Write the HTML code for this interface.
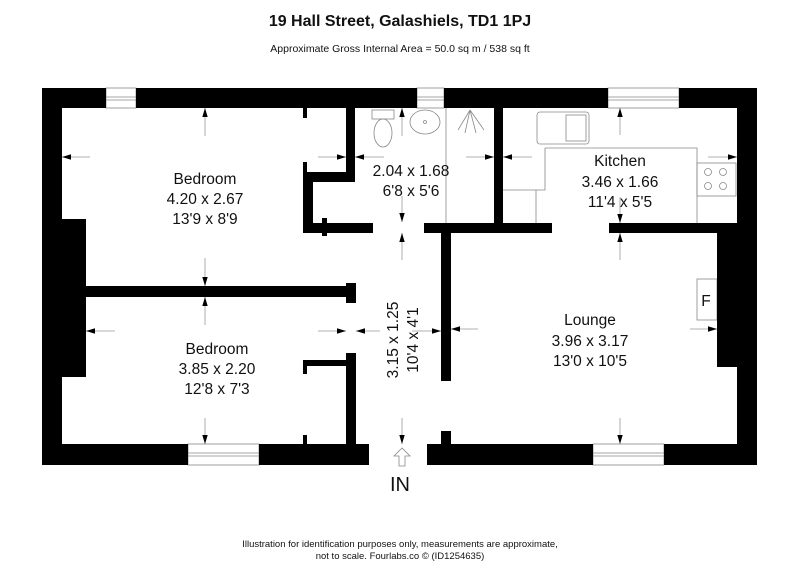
<!DOCTYPE html>
<html><head><meta charset="utf-8"><style>
body{margin:0;background:#fff;width:800px;height:577px;overflow:hidden}
svg{display:block}
text{font-family:"Liberation Sans",Arial,sans-serif;fill:#111}
</style></head><body>
<svg width="800" height="577" viewBox="0 0 800 577" xmlns="http://www.w3.org/2000/svg">
<defs>
<marker id="a" viewBox="0 0 10 10" refX="10" refY="5" markerWidth="9" markerHeight="9" orient="auto-start-reverse" markerUnits="userSpaceOnUse"><path d="M0,2 L10,5 L0,8 Z" fill="#000"/></marker>
</defs>
<text x="400" y="26" font-size="16" font-weight="bold" text-anchor="middle">19 Hall Street, Galashiels, TD1 1PJ</text>
<text x="400" y="52" font-size="10.5" text-anchor="middle">Approximate Gross Internal Area = 50.0 sq m / 538 sq ft</text>
<text x="400" y="547" font-size="9.5" text-anchor="middle">Illustration for identification purposes only, measurements are approximate,</text>
<text x="400" y="559" font-size="9.5" text-anchor="middle">not to scale. Fourlabs.co © (ID1254635)</text>

<!-- fixtures (thin gray) -->
<g fill="none" stroke="#888" stroke-width="0.8">
<rect x="372" y="110" width="22" height="9"/>
<ellipse cx="383" cy="133" rx="9" ry="14"/>
<ellipse cx="425" cy="122" rx="15" ry="12"/>
<circle cx="425" cy="122" r="1.5"/>
<path d="M470 110 L458 130 M470 110 L465 133 M470 110 L476 133 M470 110 L484 130"/>
<line x1="446" y1="108" x2="446" y2="223"/>
<rect x="537" y="112" width="52" height="32" rx="3"/>
<rect x="566" y="115" width="20" height="26"/>
<path d="M545 148 L697 148 L697 223 M545 148 L545 190 L503 190 M536 190 L536 223"/>
<rect x="697" y="163" width="39" height="33"/>
<circle cx="708" cy="172" r="3.5"/><circle cx="723" cy="172" r="3.5"/>
<circle cx="708" cy="186" r="3.5"/><circle cx="723" cy="186" r="3.5"/>
<rect x="697" y="279" width="20" height="41"/>
<rect x="106" y="88" width="30" height="20"/><line x1="106" y1="97" x2="136" y2="97"/><line x1="106" y1="100" x2="136" y2="100"/>
<rect x="417" y="88" width="27" height="20"/><line x1="417" y1="97" x2="444" y2="97"/><line x1="417" y1="100" x2="444" y2="100"/>
<rect x="608" y="88" width="71" height="20"/><line x1="608" y1="97" x2="679" y2="97"/><line x1="608" y1="100" x2="679" y2="100"/>
<rect x="188" y="444" width="71" height="21"/><line x1="188" y1="453" x2="259" y2="453"/><line x1="188" y1="456" x2="259" y2="456"/>
<rect x="593" y="444" width="71" height="21"/><line x1="593" y1="453" x2="664" y2="453"/><line x1="593" y1="456" x2="664" y2="456"/>
</g>

<!-- walls -->
<g fill="#000">
<rect x="42" y="88" width="64" height="20"/>
<rect x="136" y="88" width="281" height="20"/>
<rect x="444" y="88" width="164" height="20"/>
<rect x="679" y="88" width="78" height="20"/>
<rect x="42" y="88" width="20" height="377"/>
<rect x="42" y="219" width="44" height="158"/>
<rect x="737" y="88" width="20" height="377"/>
<rect x="717" y="233" width="40" height="134"/>
<rect x="42" y="444" width="146" height="21"/>
<rect x="259" y="444" width="110" height="21"/>
<rect x="427" y="444" width="166" height="21"/>
<rect x="664" y="444" width="93" height="21"/>
<rect x="346" y="108" width="9" height="69"/>
<rect x="303" y="172" width="52" height="10"/>
<rect x="303" y="172" width="10" height="60"/>
<rect x="303" y="223" width="70" height="10"/>
<rect x="322" y="218" width="5" height="18"/>
<rect x="303" y="108" width="4" height="10"/>
<rect x="303" y="162" width="4" height="10"/>
<rect x="494" y="108" width="9" height="120"/>
<rect x="424" y="223" width="128" height="10"/>
<rect x="609" y="223" width="148" height="10"/>
<rect x="441" y="233" width="10" height="148"/>
<rect x="441" y="431" width="10" height="20"/>
<rect x="86" y="286" width="266" height="11"/>
<rect x="346" y="283" width="10" height="20"/>
<rect x="346" y="353" width="10" height="91"/>
<rect x="303" y="360" width="43" height="6"/>
<rect x="303" y="360" width="4" height="14"/>
<rect x="303" y="435" width="4" height="9"/>
</g>

<!-- dimension arrows -->
<g stroke="#999" stroke-width="0.8" marker-end="url(#a)">
<line x1="205" y1="136" x2="205" y2="108"/>
<line x1="90" y1="157" x2="62" y2="157"/>
<line x1="318" y1="157" x2="346" y2="157"/>
<line x1="205" y1="258" x2="205" y2="286"/>
<line x1="205" y1="325" x2="205" y2="297"/>
<line x1="402" y1="136" x2="402" y2="108"/>
<line x1="384" y1="157" x2="355" y2="157"/>
<line x1="466" y1="157" x2="494" y2="157"/>
<line x1="402" y1="196" x2="402" y2="222"/>
<line x1="402" y1="260" x2="402" y2="233"/>
<line x1="620" y1="135" x2="620" y2="108"/>
<line x1="532" y1="157" x2="503" y2="157"/>
<line x1="708" y1="157" x2="737" y2="157"/>
<line x1="620" y1="197" x2="620" y2="223"/>
<line x1="620" y1="260" x2="620" y2="233"/>
<line x1="478" y1="329" x2="451" y2="329"/>
<line x1="690" y1="329" x2="717" y2="329"/>
<line x1="620" y1="418" x2="620" y2="444"/>
<line x1="205" y1="418" x2="205" y2="444"/>
<line x1="115" y1="331" x2="86" y2="331"/>
<line x1="318" y1="331" x2="346" y2="331"/>
<line x1="380" y1="331" x2="356" y2="331"/>
<line x1="412" y1="331" x2="441" y2="331"/>
<line x1="402" y1="418" x2="402" y2="444"/>
</g>
<path d="M402 448 L394 456 L399 456 L399 466 L405 466 L405 456 L410 456 Z" fill="#fff" stroke="#888" stroke-width="0.8"/>

<!-- labels -->
<g font-size="15.5" text-anchor="middle">
<text x="205" y="184">Bedroom</text><text x="205" y="204">4.20 x 2.67</text><text x="205" y="224">13'9 x 8'9</text>
<text x="411" y="176">2.04 x 1.68</text><text x="411" y="196">6'8 x 5'6</text>
<text x="620" y="166">Kitchen</text><text x="620" y="187">3.46 x 1.66</text><text x="620" y="207">11'4 x 5'5</text>
<text x="590" y="325">Lounge</text><text x="590" y="346">3.96 x 3.17</text><text x="590" y="366">13'0 x 10'5</text>
<text x="217" y="354">Bedroom</text><text x="217" y="374">3.85 x 2.20</text><text x="217" y="394">12'8 x 7'3</text>
<text transform="translate(398,340) rotate(-90)">3.15 x 1.25</text>
<text transform="translate(418,340) rotate(-90)">10'4 x 4'1</text>
<text x="706" y="306">F</text>
<text x="400" y="491" font-size="20">IN</text>
</g>
</svg>
</body></html>
